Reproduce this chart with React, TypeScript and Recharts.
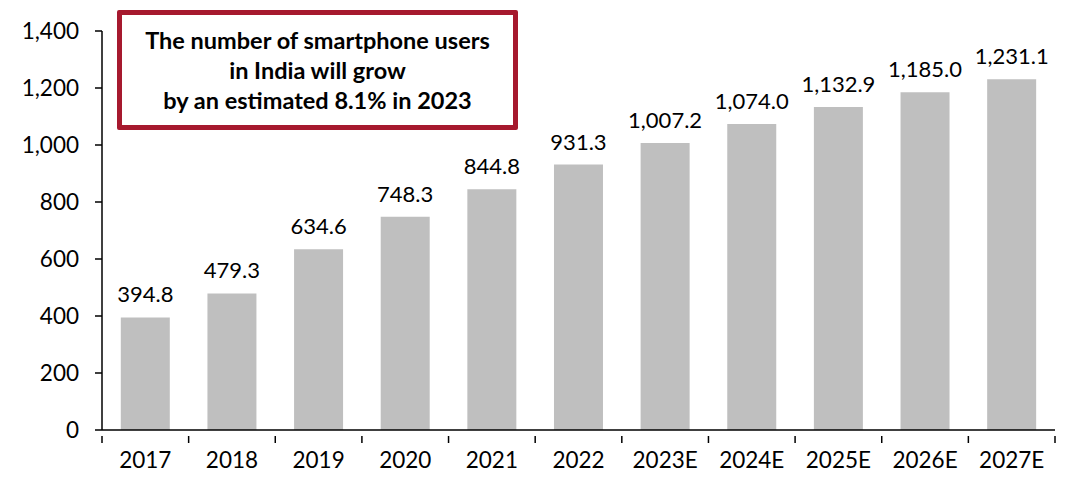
import React from "react";
import { BarChart, Bar, XAxis, YAxis, LabelList } from "recharts";

const categories = ["2017", "2018", "2019", "2020", "2021", "2022", "2023E", "2024E", "2025E", "2026E", "2027E"];
const users = [394.8, 479.3, 634.6, 748.3, 844.8, 931.3, 1007.2, 1074.0, 1132.9, 1185.0, 1231.1];
const yTicks = [0, 200, 400, 600, 800, 1000, 1200, 1400];
const calloutLines = ["The number of smartphone users", "in India will grow", "by an estimated 8.1% in 2023"];

const data = categories.map((c, i) => ({ name: c, value: users[i] }));

const FONT = "Lato, 'Open Sans', sans-serif";
const fmt = (v: number) => v.toLocaleString("en-US", { minimumFractionDigits: 1, maximumFractionDigits: 1 });
const fmtTick = (v: number) => v.toLocaleString("en-US");

const XTick = (props: any) => {
  const { x, y, payload, index, visibleTicksCount } = props;
  const half = payload && payload.offset ? payload.offset : 0;
  const isLast = index === (visibleTicksCount ?? categories.length) - 1;
  return (
    <g>
      <line x1={x - half} x2={x - half} y1={y - 16} y2={y - 9} stroke="#000" strokeWidth={1.5} />
      {isLast && <line x1={x + half} x2={x + half} y1={y - 16} y2={y - 9} stroke="#000" strokeWidth={1.5} />}
      <text x={x} y={y} dy="0.71em" textAnchor="middle" fill="#000" fontSize={22.5} fontFamily={FONT}>
        {payload.value}
      </text>
    </g>
  );
};

export default function App() {
  return (
    <div style={{ position: "absolute", left: 0, top: 0, width: 1092, height: 489, background: "#fff", fontFamily: FONT }}>
      <BarChart width={1092} height={489} data={data} margin={{ top: 31, right: 37, left: 0, bottom: 0 }} barCategoryGap="21.7%">
        <XAxis
          dataKey="name"
          height={59}
          axisLine={{ stroke: "#000", strokeWidth: 1.5 }}
          tickLine={false}
          tickMargin={16}
          tick={<XTick />}
          interval={0}
        />
        <YAxis
          width={102}
          domain={[0, 1400]}
          ticks={yTicks}
          tickFormatter={fmtTick}
          tickSize={7}
          tickMargin={16}
          axisLine={{ stroke: "#000", strokeWidth: 1.5 }}
          tickLine={{ stroke: "#000", strokeWidth: 1.5 }}
          tick={{ fill: "#000", fontSize: 22.5, fontFamily: FONT }}
        />
        <Bar dataKey="value" fill="#BFBFBF" isAnimationActive={false}>
          <LabelList dataKey="value" position="top" offset={15} formatter={(v: any) => fmt(Number(v))} style={{ fill: "#000", fontSize: 22, fontFamily: FONT }} />
        </Bar>
      </BarChart>
      <div
        style={{
          position: "absolute",
          left: 117,
          top: 10,
          width: 401,
          height: 120,
          boxSizing: "border-box",
          border: "5px solid #A6192E",
          borderRadius: 2,
          background: "#fff",
          display: "flex",
          flexDirection: "column",
          justifyContent: "center",
          alignItems: "center",
          fontWeight: 700,
          fontSize: 23.5,
          lineHeight: "30px",
          color: "#000",
          textAlign: "center",
        }}
      >
        {calloutLines.map((l) => (
          <div key={l}>{l}</div>
        ))}
      </div>
    </div>
  );
}
